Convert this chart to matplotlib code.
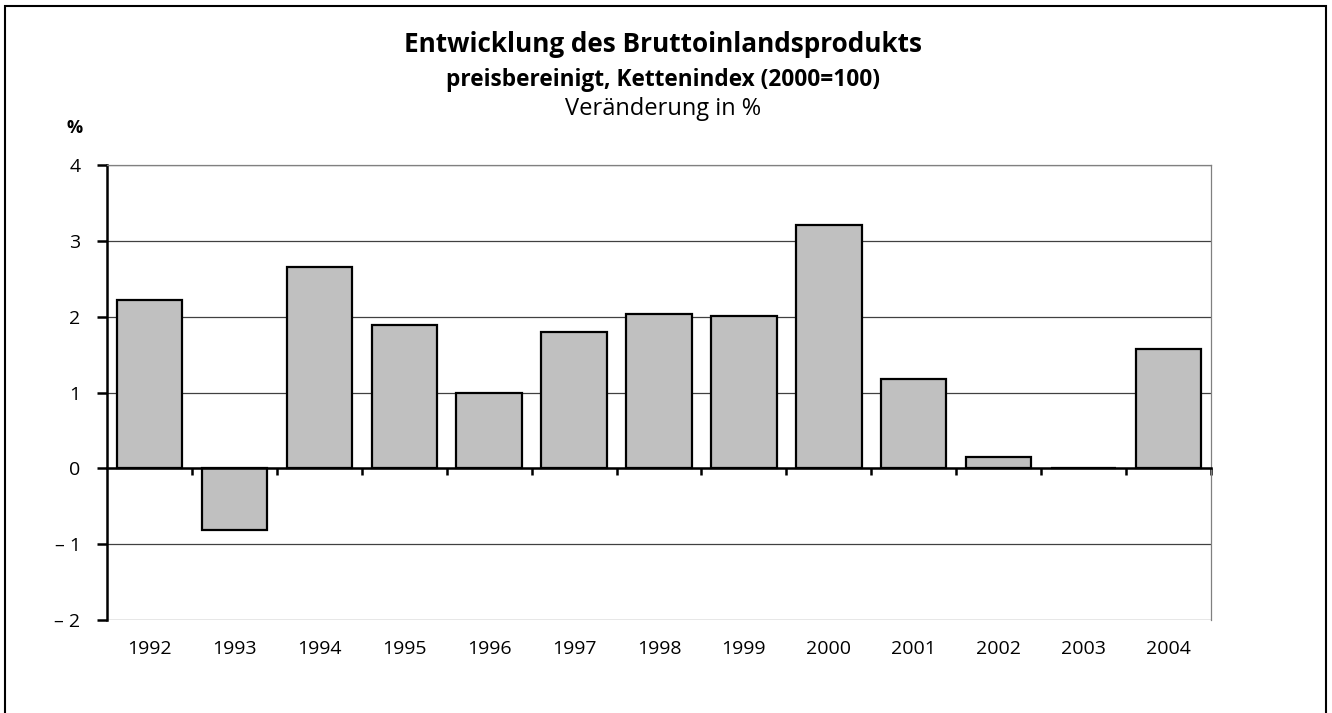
import numpy as np
import matplotlib
matplotlib.use("Agg")
import matplotlib.pyplot as plt
from matplotlib.patches import Rectangle
import matplotlib.transforms as mtransforms

plt.rcParams['font.family'] = ['Open Sans', 'DejaVu Sans']

years = ["1992", "1993", "1994", "1995", "1996", "1997", "1998",
         "1999", "2000", "2001", "2002", "2003", "2004"]
change = [2.22, -0.81, 2.66, 1.89, 0.99, 1.80, 2.03, 2.01, 3.21, 1.18, 0.15, 0.0, 1.57]
yticks = [-2, -1, 0, 1, 2, 3, 4]
ylabels = ["\u2013 2", "\u2013 1", "0", "1", "2", "3", "4"]

fig = plt.figure(figsize=(13.32, 7.13), dpi=100)
ax = fig.add_axes([107/1332, 1 - 620/713, 1104/1332, 455/713])

x = np.arange(len(years))
ax.bar(x, change, width=0.77, color="#c0c0c0", edgecolor="black", linewidth=1.6, zorder=3)

ax.set_xlim(-0.5, len(years) - 0.5)
ax.set_ylim(-2, 4)
ax.set_yticks(yticks)
ax.set_yticklabels(ylabels, fontsize=14)
ax.yaxis.grid(True, color="#404040", linewidth=0.9, zorder=0)

# x axis sits on the zero line, ticks between the categories
ax.spines['bottom'].set_position(('data', 0))
ax.spines['bottom'].set_linewidth(1.8)
ax.spines['bottom'].set_zorder(4)
ax.spines['left'].set_linewidth(1.8)
for s in ['top', 'right']:
    ax.spines[s].set_color("#808080")
    ax.spines[s].set_linewidth(0.9)
ax.set_xticks(np.arange(len(years)) + 0.5)
ax.set_xticklabels([])
ax.tick_params(axis='x', direction='out', length=5, width=1.8)
ax.tick_params(axis='y', direction='out', length=7, width=1.8, pad=12)

trans = mtransforms.blended_transform_factory(ax.transData, ax.transAxes)
for xi, lab in zip(x, years):
    ax.text(xi, -0.064, lab, transform=trans, ha='center', va='center', fontsize=14)

fig.text(0.498, 1 - 45/713, "Entwicklung des Bruttoinlandsprodukts", ha='center', va='center',
         fontsize=18.8, fontweight='bold')
fig.text(0.498, 1 - 80/713, "preisbereinigt, Kettenindex (2000=100)", ha='center', va='center',
         fontsize=16.3, fontweight='bold')
fig.text(0.498, 1 - 109/713, "Veränderung in %", ha='center', va='center', fontsize=17)
fig.text(75/1332, 1 - 128/713, "%", ha='center', va='center', fontsize=13, fontweight='bold')

# outer frame
fig.patches.append(Rectangle((5/1332, -0.05), 1321/1332, 1.05 - 6/713, transform=fig.transFigure,
                             fill=False, edgecolor="black", linewidth=1.5))

fig.savefig("out.png", dpi=100)
